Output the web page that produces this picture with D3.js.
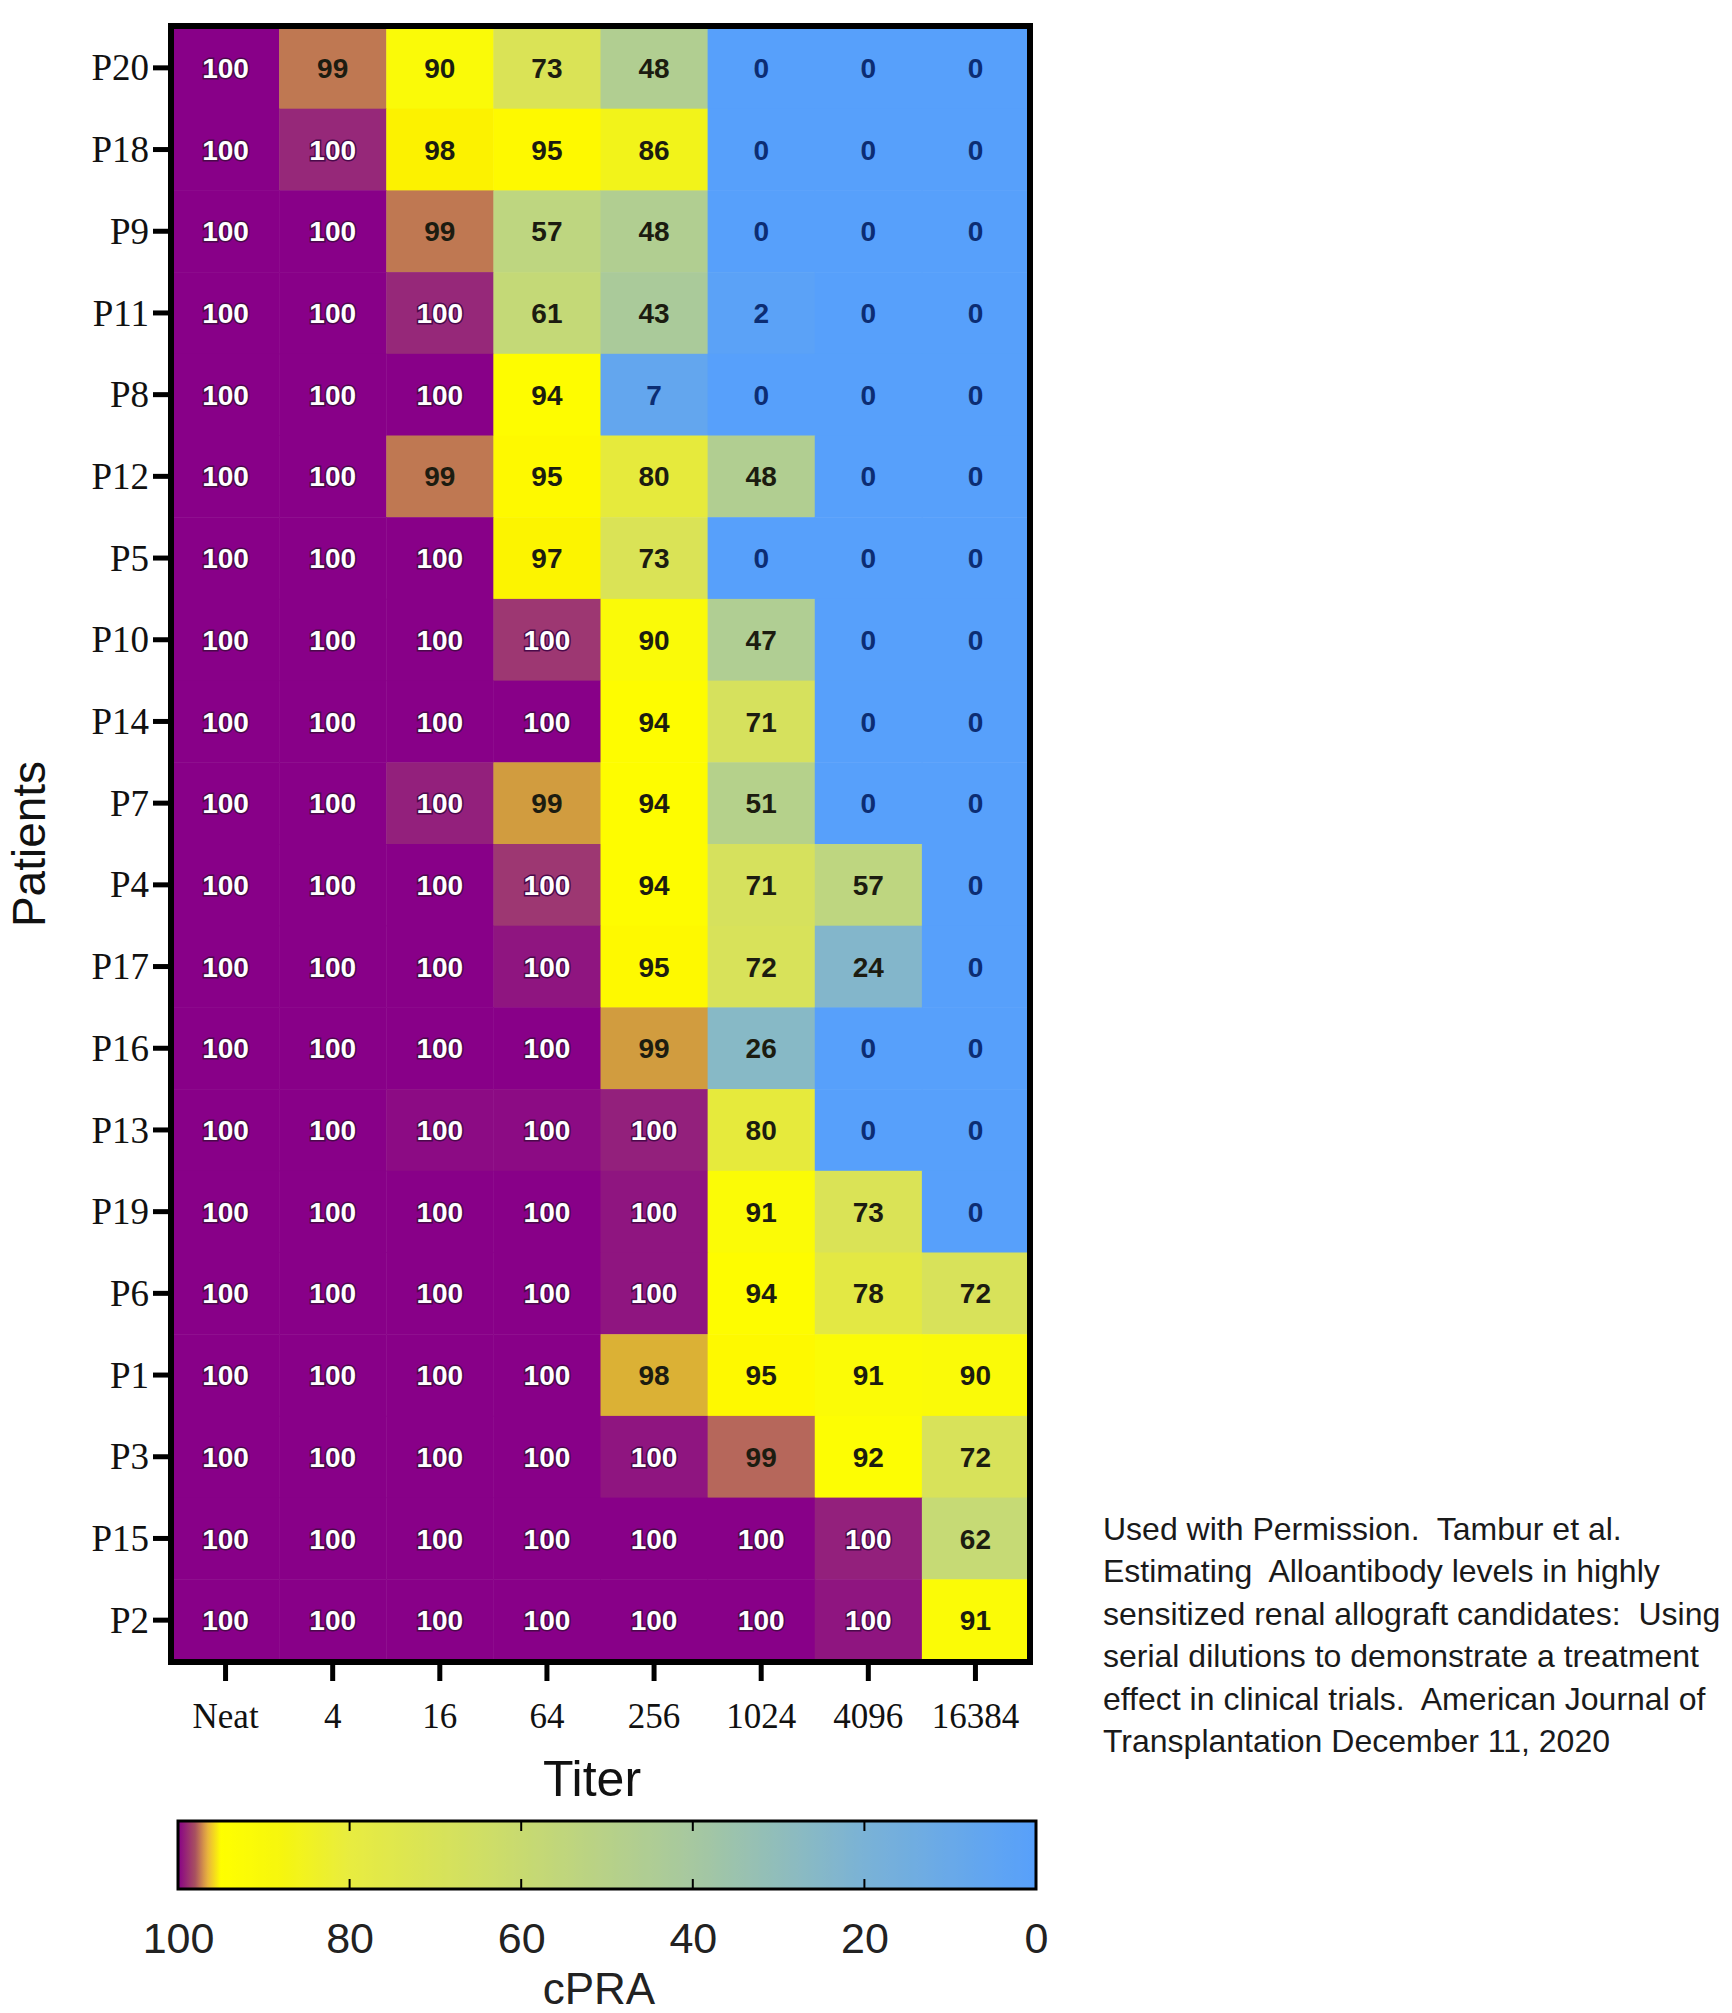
<!DOCTYPE html>
<html>
<head>
<meta charset="utf-8">
<script src="https://cdn.jsdelivr.net/npm/d3@7"></script>
<style>
  body { margin: 0; background: #fff; }
  svg { display: block; }
</style>
</head>
<body>
<div id="chart"></div>
<script>
// titer dilutions (columns) and patients (rows, top to bottom)
const titers = ["Neat", "4", "16", "64", "256", "1024", "4096", "16384"];
const patients = ["P20", "P18", "P9", "P11", "P8", "P12", "P5", "P10", "P14", "P7",
                  "P4", "P17", "P16", "P13", "P19", "P6", "P1", "P3", "P15", "P2"];

// cPRA per patient, one value per titer (decimals where the shade shows it)
const cpra = [
  [100, 99.3, 90, 73, 48, 0, 0, 0],
  [100, 99.8, 97.6, 95, 86, 0, 0, 0],
  [100, 100, 99.3, 57, 48, 0, 0, 0],
  [100, 100, 99.8, 61, 43, 2, 0, 0],
  [100, 100, 100, 94, 7, 0, 0, 0],
  [100, 100, 99.3, 95, 80, 48, 0, 0],
  [100, 100, 100, 97, 73, 0, 0, 0],
  [100, 100, 100, 99.7, 90, 47, 0, 0],
  [100, 100, 100, 100, 94, 71, 0, 0],
  [100, 100, 99.85, 98.8, 94, 51, 0, 0],
  [100, 100, 100, 99.7, 94, 71, 57, 0],
  [100, 100, 100, 99.9, 95, 72, 24, 0],
  [100, 100, 100, 100, 98.8, 26, 0, 0],
  [100, 100, 99.95, 99.95, 99.85, 80, 0, 0],
  [100, 100, 100, 100, 99.9, 91, 73, 0],
  [100, 100, 100, 100, 99.9, 94, 78, 72],
  [100, 100, 100, 100, 98.4, 95, 91, 90],
  [100, 100, 100, 100, 99.9, 99.4, 92, 72],
  [100, 100, 100, 100, 100, 100, 99.85, 62],
  [100, 100, 100, 100, 100, 100, 99.9, 91]
];

const legendTicks = [100, 80, 60, 40, 20, 0];

const citation = [
  "Used with Permission.  Tambur et al.",
  "Estimating  Alloantibody levels in highly",
  "sensitized renal allograft candidates:  Using",
  "serial dilutions to demonstrate a treatment",
  "effect in clinical trials.  American Journal of",
  "Transplantation December 11, 2020"
];

const width = 1732;
const height = 2013;
const plot = { left: 172, right: 1029, top: 27, bottom: 1661 };

const svg = d3.select("#chart").append("svg")
    .attr("width", width)
    .attr("height", height);

svg.append("rect").attr("width", width).attr("height", height).attr("fill", "#fff");

const xScale = d3.scaleBand().domain(titers).range([plot.left, plot.right]);
const yScale = d3.scaleBand().domain(patients).range([plot.top, plot.bottom]);

// colour used for the cells
const color = d3.scaleLinear()
    .domain([0, 20, 40, 60, 72, 80, 88, 93, 97.7, 98.3, 99.2, 99.6, 99.85, 100])
    .range(["#57a0fb", "#7ab2d6", "#a6c8a0", "#c2d87a", "#d8e25a", "#e6ea3c",
            "#f6f60e", "#ffff00", "#fcf200", "#ddb632", "#c8884a", "#a4466c",
            "#93207c", "#880088"])
    .clamp(true);

// smoothed colour used for the colour bar
const barColor = d3.scaleLinear()
    .domain([0, 20, 40, 60, 80, 88, 95, 96.6, 98, 100])
    .range(["#57a0fb", "#7ab2d6", "#a6c8a0", "#c8da70", "#e8ec40", "#f6f60e",
            "#ffff00", "#e8b040", "#a85060", "#880088"]);

const cells = [];
cpra.forEach((row, i) => row.forEach((v, j) => {
  cells.push({ patient: patients[i], titer: titers[j], value: v });
}));

svg.append("g").selectAll("rect").data(cells).enter().append("rect")
    .attr("x", d => xScale(d.titer))
    .attr("y", d => yScale(d.patient))
    .attr("width", xScale.bandwidth() + 0.5)
    .attr("height", yScale.bandwidth() + 0.5)
    .attr("fill", d => color(d.value));

svg.append("g").selectAll("text").data(cells).enter().append("text")
    .attr("x", d => xScale(d.titer) + xScale.bandwidth() / 2)
    .attr("y", d => yScale(d.patient) + yScale.bandwidth() / 2)
    .attr("dy", "0.36em")
    .attr("text-anchor", "middle")
    .style("font-family", "'Liberation Sans', Arial, sans-serif")
    .style("font-weight", "bold")
    .style("font-size", "28px")
    .style("paint-order", "stroke")
    .attr("stroke", d => d.value >= 99.5 ? "#4a0a4a" : "none")
    .attr("stroke-width", 3)
    .attr("fill", d => d.value >= 99.5 ? "#fff" : (d.value <= 10 ? "#0c2d73" : "#1c1c10"))
    .text(d => Math.round(d.value));

// frame
svg.append("rect")
    .attr("x", plot.left - 1)
    .attr("y", plot.top - 1)
    .attr("width", plot.right - plot.left + 2)
    .attr("height", plot.bottom - plot.top + 2)
    .attr("fill", "none")
    .attr("stroke", "#000")
    .attr("stroke-width", 6);

const xAxis = d3.axisBottom(xScale).tickSize(18).tickPadding(22);
const yAxis = d3.axisLeft(yScale).tickSize(17).tickPadding(4);

const xAxisG = svg.append("g")
    .attr("transform", `translate(0, ${plot.bottom + 2})`)
    .call(xAxis);
const yAxisG = svg.append("g")
    .attr("transform", `translate(${plot.left - 2}, 0)`)
    .call(yAxis);

[xAxisG, yAxisG].forEach(g => {
  g.select(".domain").remove();
  g.selectAll(".tick line").attr("stroke", "#000").attr("stroke-width", 5);
  g.selectAll(".tick text")
      .attr("fill", "#111")
      .style("font-family", "'Liberation Serif', 'Times New Roman', serif")
      .style("font-size", "35px");
});
yAxisG.selectAll(".tick text").style("font-size", "37px").attr("dy", "0.34em");

svg.append("text")
    .attr("x", 592)
    .attr("y", 1796)
    .attr("text-anchor", "middle")
    .style("font-family", "'Liberation Sans', Arial, sans-serif")
    .style("font-size", "50px")
    .attr("fill", "#111")
    .text("Titer");

svg.append("text")
    .attr("transform", `translate(45, ${(plot.top + plot.bottom) / 2}) rotate(-90)`)
    .attr("text-anchor", "middle")
    .style("font-family", "'Liberation Sans', Arial, sans-serif")
    .style("font-size", "46px")
    .attr("fill", "#111")
    .text("Patients");

// colour bar
const bar = { left: 178, right: 1036, top: 1821, bottom: 1889 };
const barScale = d3.scaleLinear().domain([100, 0]).range([bar.left, bar.right]);

const grad = svg.append("defs").append("linearGradient")
    .attr("id", "cpra-grad")
    .attr("x1", "0%").attr("x2", "100%");
grad.selectAll("stop").data(d3.range(0, 101, 0.5)).enter().append("stop")
    .attr("offset", d => `${d}%`)
    .attr("stop-color", d => barColor(100 - d));

svg.append("rect")
    .attr("x", bar.left)
    .attr("y", bar.top)
    .attr("width", bar.right - bar.left)
    .attr("height", bar.bottom - bar.top)
    .attr("fill", "url(#cpra-grad)")
    .attr("stroke", "#000")
    .attr("stroke-width", 3);

const inner = legendTicks.filter(t => t > 0 && t < 100);
svg.append("g").selectAll("line.top").data(inner).enter().append("line")
    .attr("x1", d => barScale(d)).attr("x2", d => barScale(d))
    .attr("y1", bar.top).attr("y2", bar.top + 10)
    .attr("stroke", "#000").attr("stroke-width", 2);
svg.append("g").selectAll("line.bot").data(inner).enter().append("line")
    .attr("x1", d => barScale(d)).attr("x2", d => barScale(d))
    .attr("y1", bar.bottom - 10).attr("y2", bar.bottom)
    .attr("stroke", "#000").attr("stroke-width", 2);

const legendAxis = d3.axisBottom(barScale).tickValues(legendTicks).tickSize(0).tickPadding(33);
const legendG = svg.append("g")
    .attr("transform", `translate(0, ${bar.bottom})`)
    .call(legendAxis);
legendG.select(".domain").remove();
legendG.selectAll(".tick text")
    .attr("fill", "#222")
    .style("font-family", "'Liberation Sans', Arial, sans-serif")
    .style("font-size", "43px");

svg.append("text")
    .attr("x", 599)
    .attr("y", 2004)
    .attr("text-anchor", "middle")
    .style("font-family", "'Liberation Sans', Arial, sans-serif")
    .style("font-size", "44px")
    .attr("fill", "#222")
    .text("cPRA");

// citation note
svg.append("g").selectAll("text").data(citation).enter().append("text")
    .attr("x", 1103)
    .attr("y", (d, i) => 1540 + i * 42.4)
    .attr("xml:space", "preserve")
    .style("white-space", "pre")
    .style("font-family", "'Liberation Sans', Arial, sans-serif")
    .style("font-size", "32px")
    .attr("fill", "#1a1a1a")
    .text(d => d);
</script>
</body>
</html>
